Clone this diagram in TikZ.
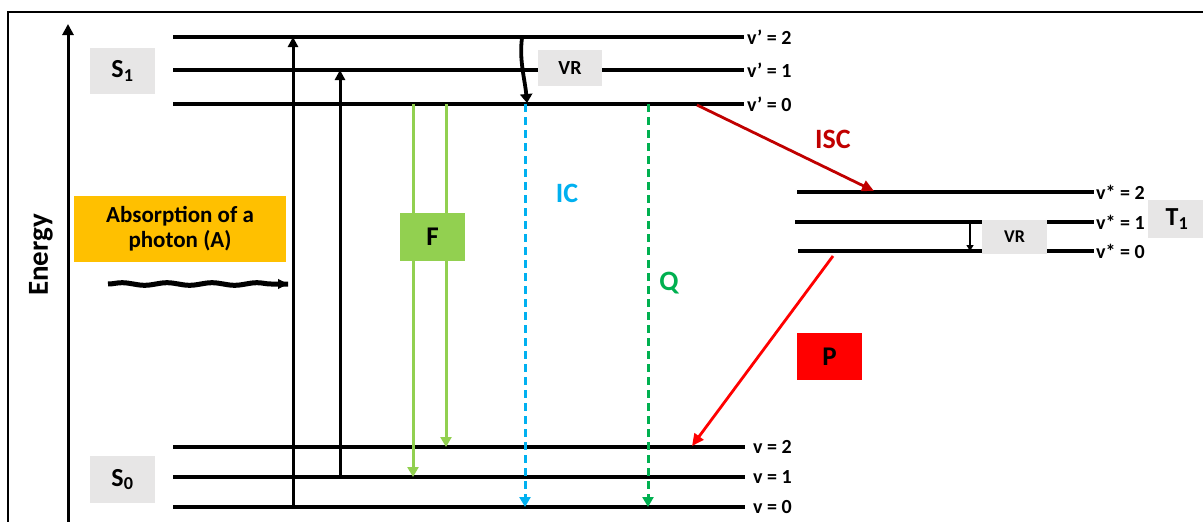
\documentclass[tikz,border=0pt]{standalone}
\usepackage{fontspec}
\setmainfont{Carlito}
\usetikzlibrary{arrows.meta,decorations.pathmorphing,calc}
\definecolor{boxgray}{RGB}{231,230,230}
\definecolor{absorb}{HTML}{FFC000}
\definecolor{fgreen}{HTML}{92D050}
\definecolor{icblue}{HTML}{00B0F0}
\definecolor{qgreen}{HTML}{00B050}
\definecolor{iscred}{HTML}{C00000}
\definecolor{pred}{HTML}{FF0000}
\newcommand{\fsz}[1]{\fontsize{#1}{#1}\selectfont\bfseries}
\begin{document}
\begin{tikzpicture}[x=1pt,y=-1pt,
  level/.style={line width=3.3pt},
  lvlab/.style={anchor=west,inner sep=0pt,font=\fsz{20}},
  graybox/.style={fill=boxgray,inner sep=0pt,font=\fsz{26}},
  upar/.style={line width=3pt,-{Triangle[length=10pt,width=10pt]}},
  fl/.style={draw=fgreen,line width=3pt,-{Triangle[length=10pt,width=11pt]}},
  dsh/.style={line width=3pt,dash pattern=on 8pt off 5pt,-{Triangle[length=10pt,width=11pt]}},
  bigtext/.style={inner sep=0pt,font=\fsz{28}}]
\useasboundingbox (0,0) rectangle (1203,522);
% frame
\draw[line width=2pt] (8,522) -- (8,12) -- (1203,12);
% energy axis
\coordinate (ea0) at (68,522);
\coordinate (ea1) at (68,24);
\draw[line width=3pt,-{Triangle[length=11pt,width=11pt]}] (ea0) -- (ea1);
\node[rotate=90,font=\fsz{29}] (energy) at (41,255) {Energy};

% S1 levels
\foreach \n/\y/\v in {s1a/37/2,s1b/70/1,s1c/104/0}{
  \coordinate (\n L) at (173,\y);
  \coordinate (\n R) at (744,\y);
  \draw[level] (\n L) -- (\n R);
  \node[lvlab] (\n lab) at (747,\y) {v’ = \v};
}
% S0 levels
\foreach \n/\y/\v in {s0a/447/2,s0b/477/1,s0c/507/0}{
  \coordinate (\n L) at (173,\y);
  \coordinate (\n R) at (745,\y);
  \draw[level] (\n L) -- (\n R);
  \node[lvlab] (\n lab) at (753,\y) {v = \v};
}
% T1 levels
\foreach \n/\y/\v/\xl in {t1a/192/2/797,t1b/222/1/795,t1c/251/0/798}{
  \coordinate (\n L) at (\xl,\y);
  \coordinate (\n R) at (1094,\y);
  \draw[level] (\n L) -- (\n R);
  \node[lvlab] (\n lab) at (1096,\y) {v* = \v};
}

% state boxes
\node[graybox,minimum width=65pt,minimum height=46pt] (S1) at (122.5,71) {S\textsubscript{1}};
\node[graybox,minimum width=65pt,minimum height=47pt] (S0) at (122.5,479.5) {S\textsubscript{0}};
\fill[boxgray] (1148,200) rectangle (1203,238);
\node[inner sep=0pt,font=\fsz{26}] (T1) at (1177,219) {T\textsubscript{1}};

% absorption
\node[fill=absorb,minimum width=212pt,minimum height=66pt,inner sep=0pt,
  align=center,font=\fsz{23}] (abs) at (180,229) {Absorption of a\\[2pt]photon (A)};
\coordinate (wv0) at (108,284);
\coordinate (wv1) at (288,284);
\coordinate (wv2) at (280,284);
\draw[line width=5pt,decorate,decoration={snake,amplitude=1.3pt,segment length=45pt,post length=8pt}] (wv0) -- (wv1);
\draw[line width=1pt,-{Triangle[length=10pt,width=10pt]}] (wv2) -- (wv1);

\coordinate (a1s) at (293,507);
\coordinate (a1e) at (293,37);
\coordinate (a2s) at (340,477);
\coordinate (a2e) at (340,70);
\draw[upar] (a1s) -- (a1e);
\draw[upar] (a2s) -- (a2e);

% vibrational relaxation S1
\coordinate (vr1s) at (522,38);
\coordinate (vr1e) at (527,103);
\draw[line width=3.8pt,-{Triangle[length=9pt,width=12pt]}] (vr1s) .. controls (519,60) and (525,80) .. (vr1e);
\node[graybox,minimum width=64pt,minimum height=36pt,font=\fsz{20}] (VR1) at (570,68) {VR};

% fluorescence
\coordinate (f1s) at (413,104);
\coordinate (f1e) at (413,477);
\coordinate (f2s) at (446,104);
\coordinate (f2e) at (446,447);
\draw[fl] (f1s) -- (f1e);
\draw[fl] (f2s) -- (f2e);
\node[fill=fgreen,minimum width=65pt,minimum height=48pt,inner sep=0pt,font=\fsz{27}] (F) at (432.5,237) {F};

% internal conversion
\coordinate (ics) at (525,104);
\coordinate (ice) at (525,507);
\draw[dsh,draw=icblue,color=icblue] (ics) -- (ice);
\node[bigtext,text=icblue] (IC) at (567,193) {IC};

% quenching
\coordinate (qs) at (648,104);
\coordinate (qe) at (648,507);
\draw[dsh,draw=qgreen,color=qgreen] (qs) -- (qe);
\node[bigtext,text=qgreen] (Q) at (669,283) {Q};

% ISC
\coordinate (iscs) at (697,105);
\coordinate (isce) at (874,191);
\draw[line width=2.8pt,draw=iscred,color=iscred,-{Triangle[length=12pt,width=11pt]}] (iscs) -- (isce);
\node[bigtext,text=iscred] (ISC) at (833,139) {ISC};

% VR in T1
\coordinate (vr2s) at (970,223);
\coordinate (vr2e) at (970,251);
\draw[line width=2.2pt,-{Triangle[length=6pt,width=7pt]}] (vr2s) -- (vr2e);
\node[graybox,minimum width=65pt,minimum height=34pt,font=\fsz{18}] (VR2) at (1014.5,236.5) {VR};

% phosphorescence
\coordinate (ps) at (833,256);
\coordinate (pe) at (692,446);
\draw[line width=2.8pt,draw=pred,color=pred,-{Triangle[length=12pt,width=11pt]}] (ps) -- (pe);
\node[fill=pred,minimum width=65pt,minimum height=47pt,inner sep=0pt,font=\fsz{27}] (P) at (829.5,356.5) {P};
\end{tikzpicture}
\end{document}
